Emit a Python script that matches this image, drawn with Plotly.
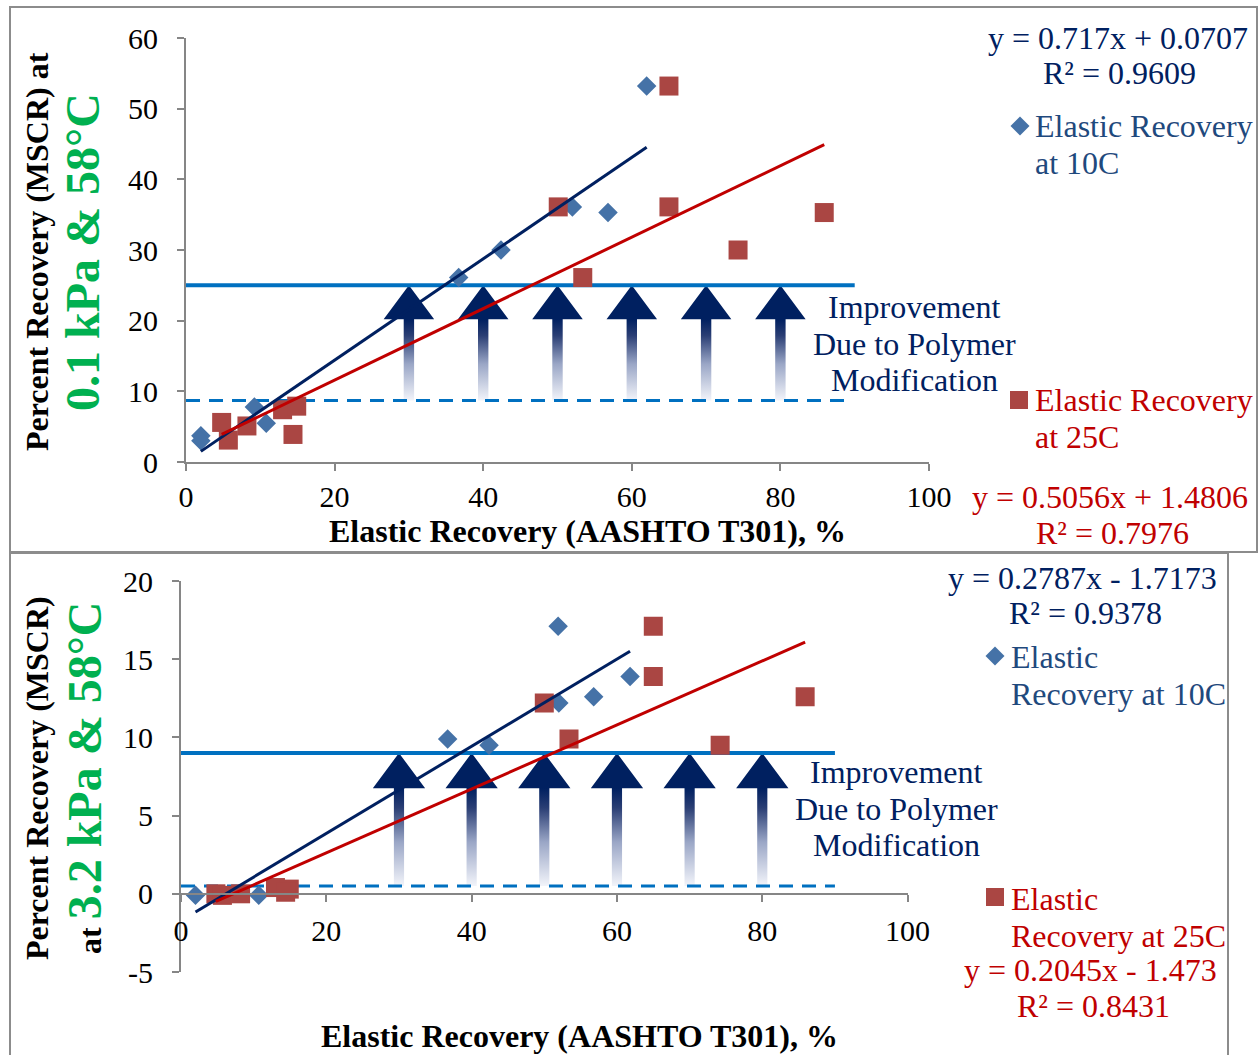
import plotly.graph_objects as go

# ---------------- data ----------------
# Top panel: MSCR recovery at 0.1 kPa & 58C
top_er10_x = [2.0, 2.0, 9.2, 10.8, 36.7, 42.4, 52.0, 56.8, 62.0]
top_er10_y = [3.7, 3.0, 7.8, 5.5, 26.1, 30.0, 36.1, 35.3, 53.2]
top_er25_x = [4.8, 5.7, 8.2, 13.0, 14.9, 14.4, 50.1, 53.4, 65.0, 65.0, 74.3, 85.9]
top_er25_y = [5.6, 3.1, 5.1, 7.4, 7.9, 3.9, 36.1, 26.1, 36.1, 53.2, 30.0, 35.3]

# Bottom panel: MSCR recovery at 3.2 kPa & 58C
bot_er10_x = [2.0, 10.7, 36.7, 42.4, 52.0, 56.8, 61.8, 51.9]
bot_er10_y = [-0.1, -0.1, 9.9, 9.5, 12.2, 12.6, 13.9, 17.1]
bot_er25_x = [4.8, 5.7, 8.2, 13.0, 14.9, 14.4, 50.0, 53.4, 65.0, 65.0, 74.2, 85.9]
bot_er25_y = [0.0, -0.1, 0.0, 0.4, 0.3, 0.1, 12.2, 9.9, 17.1, 13.9, 9.5, 12.6]

# Trendline coefficients (as printed on the chart)
top_slopes = [0.717, 0.5056]
top_intercepts = [0.0707, 1.4806]
top_r2 = [0.9609, 0.7976]
bot_slopes = [0.2787, 0.2045]
bot_intercepts = [-1.7173, -1.473]
bot_r2 = [0.9378, 0.8431]

# Threshold lines (solid = target, dashed = unmodified level) and their x extents
top_solid_y, top_dash_y = 25, 8.7
bot_solid_y, bot_dash_y = 9, 0.5
top_line_x = [0, 90]
top_dash_x = [0, 89]
bot_line_x = [0, 90]
bot_dash_x = [0, 90]

# Arrow positions
arrow_x = [30, 40, 50, 60, 70, 80]

# Axis ticks
top_xticks = [0, 20, 40, 60, 80, 100]
top_yticks = [0, 10, 20, 30, 40, 50, 60]
bot_xticks = [0, 20, 40, 60, 80, 100]
bot_yticks = [-5, 0, 5, 10, 15, 20]

# Legend labels (line by line, as wrapped on the chart)
top_legend_10 = ["Elastic Recovery", "at 10C"]
top_legend_25 = ["Elastic Recovery", "at 25C"]
bot_legend_10 = ["Elastic", "Recovery at 10C"]
bot_legend_25 = ["Elastic", "Recovery at 25C"]
note_lines = ["Improvement", "Due to Polymer", "Modification"]

# ---------------- styling ----------------
W, H = 1259, 1055
FONT = "Liberation Serif, Times New Roman, serif"
FS = 32
NAVY = "#002060"
LEG_BLUE = "#1F497D"
RED_TXT = "#C00000"
GREEN = "#00B050"
BLUE_MK = "#4572A7"
RED_MK = "#AA4643"
LINE_BLUE = "#0070C0"
AX_GRAY = "#868686"


def px(x):
    return x / W


def py(y):
    return 1 - y / H


fig = go.Figure()


def eq_text(s, b):
    sign = "+" if b >= 0 else "-"
    return f"y = {s}x {sign} {abs(b)}"


def add_panel(xa, ya, s10x, s10y, s25x, s25y, slopes, intercepts,
              solid_y, dash_y, line_x, dash_x, head_h, head_hw, shaft_hw, names):
    # gradient arrows
    top = solid_y
    base = solid_y - head_h
    frac = (base - dash_y) / (top - dash_y)
    ax_, ay_ = [], []
    for c in arrow_x:
        ax_ += [c - shaft_hw, c - shaft_hw, c - head_hw, c, c + head_hw, c + shaft_hw, c + shaft_hw, c - shaft_hw, None]
        ay_ += [dash_y, base, base, top, base, base, dash_y, dash_y, None]
    fig.add_trace(go.Scatter(
        x=ax_, y=ay_, xaxis=xa, yaxis=ya, mode="lines", fill="toself",
        line=dict(width=0, color="rgba(0,0,0,0)"),
        fillgradient=dict(type="vertical", start=dash_y, stop=top,
                          colorscale=[[0, "#F2F4FA"], [frac * 0.45, "#9AA6C6"],
                                      [frac * 0.8, "#2A3E74"], [frac, NAVY], [1, NAVY]]),
        hoverinfo="skip", showlegend=False))
    # threshold lines
    fig.add_trace(go.Scatter(x=line_x, y=[solid_y] * 2, xaxis=xa, yaxis=ya, mode="lines",
                             line=dict(color=LINE_BLUE, width=4), hoverinfo="skip", showlegend=False))
    fig.add_trace(go.Scatter(x=dash_x, y=[dash_y] * 2, xaxis=xa, yaxis=ya, mode="lines",
                             line=dict(color=LINE_BLUE, width=3, dash="14px,9px"),
                             hoverinfo="skip", showlegend=False))
    # markers
    fig.add_trace(go.Scatter(x=s10x, y=s10y, xaxis=xa, yaxis=ya, mode="markers", name=names[0],
                             marker=dict(symbol="diamond", size=15, color=BLUE_MK, line=dict(width=0)),
                             showlegend=False))
    fig.add_trace(go.Scatter(x=s25x, y=s25y, xaxis=xa, yaxis=ya, mode="markers", name=names[1],
                             marker=dict(symbol="square", size=19, color=RED_MK, line=dict(width=0)),
                             showlegend=False))
    # trendlines
    for sx, s, b, col in [(s10x, slopes[0], intercepts[0], NAVY), (s25x, slopes[1], intercepts[1], "#C00000")]:
        xr = [min(sx), max(sx)]
        fig.add_trace(go.Scatter(x=xr, y=[s * v + b for v in xr], xaxis=xa, yaxis=ya, mode="lines",
                                 line=dict(color=col, width=3), hoverinfo="skip", showlegend=False))


add_panel("x", "y", top_er10_x, top_er10_y, top_er25_x, top_er25_y, top_slopes, top_intercepts,
          top_solid_y, top_dash_y, top_line_x, top_dash_x, 4.8, 3.4, 0.7,
          [" ".join(top_legend_10), " ".join(top_legend_25)])
add_panel("x2", "y2", bot_er10_x, bot_er10_y, bot_er25_x, bot_er25_y, bot_slopes, bot_intercepts,
          bot_solid_y, bot_dash_y, bot_line_x, bot_dash_x, 2.25, 3.6, 0.7,
          [" ".join(bot_legend_10), " ".join(bot_legend_25)])

axis_common = dict(showgrid=False, zeroline=False, showline=True, linecolor=AX_GRAY, linewidth=2,
                   ticks="outside", ticklen=7, tickwidth=2, tickcolor=AX_GRAY, automargin=False,
                   tickfont=dict(family=FONT, size=30, color="black"))


def labels(vals):
    return [str(v) for v in vals]


fig.update_layout(
    width=W, height=H, margin=dict(l=0, r=0, t=0, b=0, autoexpand=False),
    paper_bgcolor="white", plot_bgcolor="rgba(0,0,0,0)", showlegend=False,
    xaxis=dict(domain=[px(186), px(929)], range=[0, 100], tickvals=top_xticks, ticktext=labels(top_xticks),
               anchor="y", ticklabelstandoff=0, **axis_common),
    yaxis=dict(domain=[py(462), py(38)], range=[0, 60], tickvals=top_yticks, ticktext=labels(top_yticks),
               anchor="x", ticklabelstandoff=13, **axis_common),
    xaxis2=dict(domain=[px(181), px(907.6)], range=[0, 100], tickvals=bot_xticks, ticktext=labels(bot_xticks),
                anchor="free", position=py(894), ticklabelstandoff=3, **axis_common),
    yaxis2=dict(domain=[py(972), py(581)], range=[-5, 20], tickvals=bot_yticks, ticktext=labels(bot_yticks),
                anchor="x2", ticklabelstandoff=13, **axis_common),
)

ann = []
shapes = []


def txt(x, y, text, color, size=FS, xanchor="center", bold=False, angle=0):
    ann.append(dict(xref="paper", yref="paper", x=px(x), y=py(y), text=f"<b>{text}</b>" if bold else text,
                    showarrow=False, xanchor=xanchor, yanchor="middle", textangle=angle,
                    font=dict(family=FONT, size=size, color=color)))


def legend_entry(gx, gy, symbol, color, lines, tcolor, tx, ty0, dy=37):
    # glyph (legend key)
    if symbol == "diamond":
        r = 9.5
        path = (f"M {px(gx - r)},{py(gy)} L {px(gx)},{py(gy - r)} L {px(gx + r)},{py(gy)} "
                f"L {px(gx)},{py(gy + r)} Z")
    else:
        r = 9
        path = (f"M {px(gx - r)},{py(gy - r)} L {px(gx + r)},{py(gy - r)} L {px(gx + r)},{py(gy + r)} "
                f"L {px(gx - r)},{py(gy + r)} Z")
    shapes.append(dict(type="path", xref="paper", yref="paper", path=path, fillcolor=color,
                       line=dict(width=0)))
    for i, line in enumerate(lines):
        txt(tx, ty0 + dy * i, line, tcolor, xanchor="left")


# top panel texts
txt(1250, 38, eq_text(top_slopes[0], top_intercepts[0]), NAVY, xanchor="right")
txt(1119, 73, f"R² = {top_r2[0]}", NAVY)
txt(1250, 497, eq_text(top_slopes[1], top_intercepts[1]), RED_TXT, xanchor="right")
txt(1112, 533, f"R² = {top_r2[1]}", RED_TXT)
for i, line in enumerate(note_lines):
    txt(915, 307 + 36.5 * i, line, NAVY)
txt(587, 531, "Elastic Recovery (AASHTO T301), %", "black", bold=True)
txt(37, 252, "Percent Recovery (MSCR) at", "black", bold=True, angle=-90)
txt(82, 252, "0.1 kPa &amp; 58°C", GREEN, size=48, bold=True, angle=-90)
legend_entry(1020, 126, "diamond", BLUE_MK, top_legend_10, LEG_BLUE, 1033, 126)
legend_entry(1019, 400, "square", RED_MK, top_legend_25, RED_TXT, 1033, 400)

# bottom panel texts
txt(1219, 578, eq_text(bot_slopes[0], bot_intercepts[0]), NAVY, xanchor="right")
txt(1085, 613, f"R² = {bot_r2[0]}", NAVY)
txt(1219, 970, eq_text(bot_slopes[1], bot_intercepts[1]), RED_TXT, xanchor="right")
txt(1093, 1006, f"R² = {bot_r2[1]}", RED_TXT)
for i, line in enumerate(note_lines):
    txt(896, 772 + 36.5 * i, line, NAVY)
txt(579, 1036, "Elastic Recovery (AASHTO T301), %", "black", bold=True)
txt(37, 778, "Percent Recovery (MSCR)", "black", bold=True, angle=-90)
txt(84, 777, f'<span style="color:black;font-size:{FS}px">at </span>3.2 kPa &amp; 58°C', GREEN,
    size=48, bold=True, angle=-90)
legend_entry(995, 656, "diamond", BLUE_MK, bot_legend_10, LEG_BLUE, 1009, 657)
legend_entry(995, 897, "square", RED_MK, bot_legend_25, RED_TXT, 1009, 899)

# chart frames
shapes.append(dict(type="rect", xref="paper", yref="paper", x0=px(10), x1=px(1257), y0=py(552), y1=py(7),
                   line=dict(color="#8C8C8C", width=2), layer="below"))
shapes.append(dict(type="rect", xref="paper", yref="paper", x0=px(10), x1=px(1228), y0=py(1062), y1=py(553),
                   line=dict(color="#8C8C8C", width=2), layer="below"))

fig.update_layout(annotations=ann, shapes=shapes)

fig.write_html("out.html")
